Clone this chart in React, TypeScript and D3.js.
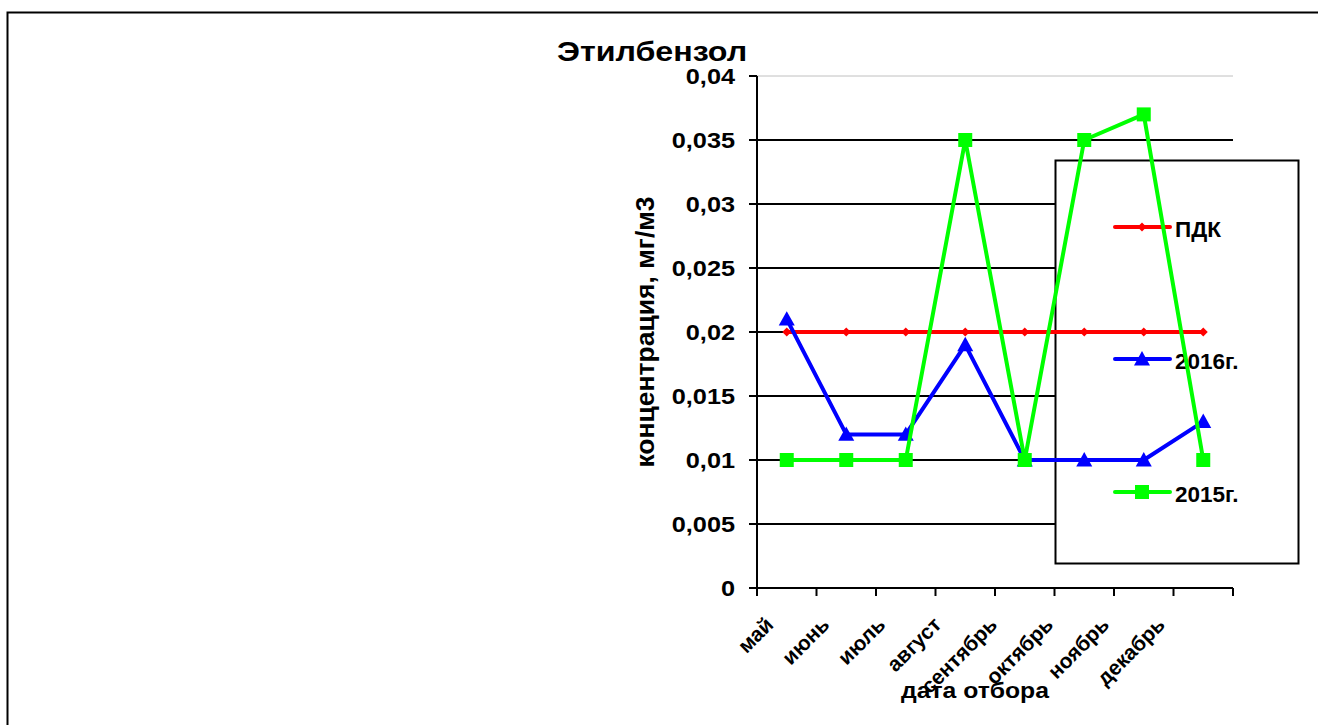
import React from "react";
import * as d3 from "d3";

const months = ["май", "июнь", "июль", "август", "сентябрь", "октябрь", "ноябрь", "декабрь"];
const pdk = [0.02, 0.02, 0.02, 0.02, 0.02, 0.02, 0.02, 0.02];
const y2016 = [0.021, 0.012, 0.012, 0.019, 0.01, 0.01, 0.01, 0.013];
const y2015 = [0.01, 0.01, 0.01, 0.035, 0.01, 0.035, 0.037, 0.01];
const yTicks = [0, 0.005, 0.01, 0.015, 0.02, 0.025, 0.03, 0.035, 0.04];

const W = 1318;
const H = 725;
const plot = { left: 757, right: 1233, top: 76, bottom: 588 };
const FONT = "Liberation Sans, Arial, sans-serif";
const SX = 1.15; // horizontal widening of the bold labels

function fmt(v: number) {
  return String(v).replace(".", ",");
}

function Marker({ kind, x, y, color }: { kind: string; x: number; y: number; color: string }) {
  if (kind === "diamond") {
    const s = 4.5;
    return <path d={`M${x},${y - s}L${x + s},${y}L${x},${y + s}L${x - s},${y}Z`} fill={color} />;
  }
  if (kind === "triangle") {
    const s = 8;
    return <path d={`M${x},${y - s}L${x + s},${y + s * 0.8}L${x - s},${y + s * 0.8}Z`} fill={color} />;
  }
  const s = 7;
  return <rect x={x - s} y={y - s} width={s * 2} height={s * 2} fill={color} />;
}

export default function App() {
  const x = d3.scaleBand<string>().domain(months).range([plot.left, plot.right]);
  const y = d3.scaleLinear().domain([0, 0.04]).range([plot.bottom, plot.top]);
  const cx = (m: string) => (x(m) as number) + x.bandwidth() / 2;
  // anchors of the slanted month labels
  const lx = d3
    .scalePoint<string>()
    .domain(months)
    .range([cx(months[0]) - 12, cx(months[months.length - 1]) - 37]);

  const line = d3
    .line<number>()
    .x((_, i) => cx(months[i]))
    .y((d) => y(d));

  const series = [
    { name: "ПДК", values: pdk, color: "#ff0000", marker: "diamond", ly: 227 },
    { name: "2016г.", values: y2016, color: "#0000ff", marker: "triangle", ly: 359 },
    { name: "2015г.", values: y2015, color: "#00ff00", marker: "square", ly: 492 },
  ];

  const boundaries = months.map((m) => x(m) as number).concat([plot.right]);

  return (
    <svg
      width={W}
      height={H}
      style={{ position: "absolute", left: 0, top: 0, background: "#fff" }}
      fontFamily={FONT}
    >
      <rect x={0} y={0} width={W} height={H} fill="#fff" />
      {/* outer chart frame */}
      <rect x={7.5} y={12.5} width={W + 20} height={H + 20} fill="none" stroke="#000" strokeWidth={2} />

      <text transform={`translate(557,61) scale(${SX},1)`} fontSize={28} fontWeight="bold">
        Этилбензол
      </text>

      {/* gridlines */}
      {yTicks.slice(1).map((t) => (
        <line
          key={t}
          x1={plot.left}
          x2={plot.right}
          y1={y(t)}
          y2={y(t)}
          stroke={t === 0.04 ? "#c0c0c0" : "#000"}
          strokeWidth={t === 0.04 ? 1 : 2}
        />
      ))}

      {/* y axis */}
      <line x1={plot.left} x2={plot.left} y1={plot.top} y2={plot.bottom} stroke="#000" strokeWidth={2} />
      {yTicks.map((t) => (
        <g key={t}>
          <line x1={plot.left - 8} x2={plot.left} y1={y(t)} y2={y(t)} stroke="#000" strokeWidth={2} />
          <text
            transform={`translate(735,${y(t) + 8}) scale(${SX},1)`}
            fontSize={22}
            fontWeight="bold"
            textAnchor="end"
          >
            {fmt(t)}
          </text>
        </g>
      ))}

      {/* x axis */}
      <line x1={plot.left} x2={plot.right} y1={plot.bottom} y2={plot.bottom} stroke="#000" strokeWidth={2} />
      {boundaries.map((b, i) => (
        <line key={i} x1={b} x2={b} y1={plot.bottom} y2={plot.bottom + 8} stroke="#000" strokeWidth={2} />
      ))}
      {months.map((m) => (
        <text
          key={m}
          transform={`translate(${lx(m)},${plot.bottom + 38}) rotate(-45)`}
          fontSize={21}
          fontWeight="bold"
          textAnchor="end"
        >
          {m}
        </text>
      ))}

      <text
        transform={`translate(975,698) scale(${SX},1)`}
        fontSize={21.5}
        fontWeight="bold"
        textAnchor="middle"
      >
        дата отбора
      </text>
      <text
        transform={`translate(654,${(plot.top + plot.bottom) / 2}) rotate(-90)`}
        fontSize={26.5}
        fontWeight="bold"
        textAnchor="middle"
      >
        концентрация, мг/м3
      </text>

      {/* legend box */}
      <rect x={1055.5} y={160.5} width={243} height={403} fill="#fff" stroke="#000" strokeWidth={2} />
      {series.map((s) => (
        <g key={s.name}>
          <line x1={1115} x2={1170} y1={s.ly} y2={s.ly} stroke={s.color} strokeWidth={4} strokeLinecap="round" />
          <Marker kind={s.marker} x={1142} y={s.ly} color={s.color} />
          <text x={1175} y={s.ly + 10} fontSize={22.5} fontWeight="bold">{s.name}</text>
        </g>
      ))}

      {/* series */}
      {series.map((s) => (
        <g key={s.name}>
          <path d={line(s.values) as string} fill="none" stroke={s.color} strokeWidth={4} strokeLinejoin="round" />
          {s.values.map((v, i) => (
            <Marker key={i} kind={s.marker} x={cx(months[i])} y={y(v)} color={s.color} />
          ))}
        </g>
      ))}
    </svg>
  );
}
